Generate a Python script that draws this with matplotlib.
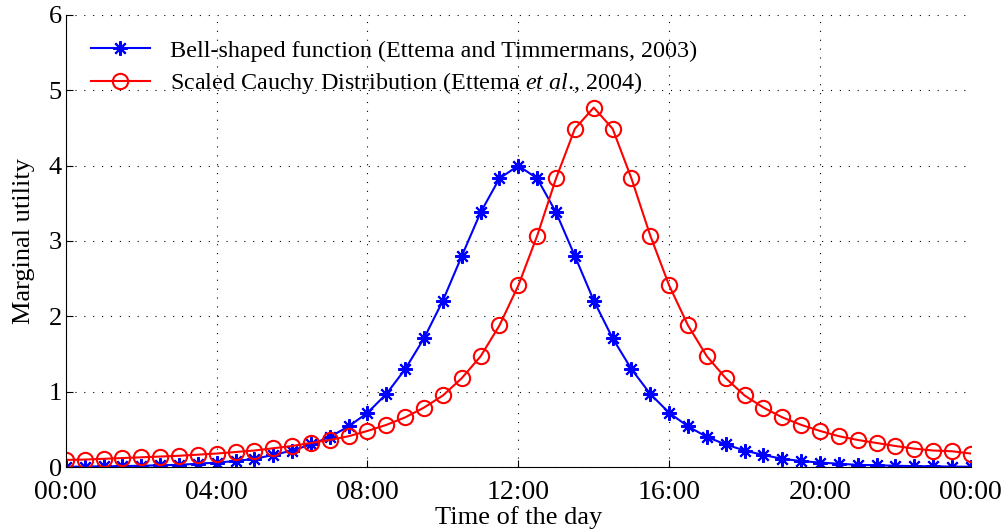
import numpy as np
import matplotlib.pyplot as plt

plt.rcParams['font.family'] = ['Liberation Serif', 'DejaVu Serif']
plt.rcParams['mathtext.fontset'] = 'custom'
plt.rcParams['mathtext.rm'] = 'Liberation Serif'
plt.rcParams['mathtext.it'] = 'Liberation Serif:italic'

# time of day in hours, every half hour
hours = np.arange(0, 24.5, 0.5)

# bell-shaped function, peak at 12:00
bell = [0.005, 0.007, 0.01, 0.013, 0.018, 0.024, 0.03, 0.045, 0.06, 0.08,
        0.11, 0.16, 0.22, 0.30, 0.40, 0.54, 0.72, 0.97, 1.30, 1.71,
        2.21, 2.80, 3.38, 3.83, 4.00, 3.83, 3.38, 2.80, 2.21, 1.71,
        1.30, 0.97, 0.72, 0.54, 0.40, 0.30, 0.22, 0.16, 0.11, 0.08,
        0.06, 0.045, 0.03, 0.024, 0.018, 0.013, 0.01, 0.007, 0.005]

# scaled Cauchy distribution, peak at 14:00
cauchy = [0.095, 0.10, 0.11, 0.12, 0.13, 0.14, 0.15, 0.165, 0.18, 0.20,
          0.22, 0.25, 0.28, 0.32, 0.36, 0.41, 0.48, 0.56, 0.66, 0.79,
          0.95, 1.18, 1.47, 1.88, 2.41, 3.07, 3.83, 4.49, 4.77, 4.49,
          3.83, 3.07, 2.41, 1.88, 1.47, 1.18, 0.95, 0.79, 0.66, 0.56,
          0.48, 0.41, 0.36, 0.32, 0.28, 0.245, 0.22, 0.21, 0.18]

xticks = [0, 4, 8, 12, 16, 20, 24]
xticklabels = ['00:00', '04:00', '08:00', '12:00', '16:00', '20:00', '00:00']

fig = plt.figure(figsize=(10.05, 5.32), dpi=100)
ax = fig.add_axes([0.0655, 0.122, 0.9005, 0.85])

ax.plot(hours, bell, color='blue', linewidth=1.5, marker=(8, 2, 0),
        markersize=10.5, markeredgewidth=1.5,
        label='Bell-shaped function (Ettema and Timmermans, 2003)')
ax.plot(hours, cauchy, color='red', linewidth=1.5, marker='o',
        markersize=11, markerfacecolor='none', markeredgewidth=1.5,
        label=r'Scaled Cauchy Distribution (Ettema $\mathit{et\ al}$., 2004)')

ax.set_xlim(0, 24)
ax.set_ylim(0, 6)
ax.set_xticks(xticks)
ax.set_xticklabels(xticklabels)
ax.set_yticks(range(7))
ax.tick_params(direction='in', labelsize=19, length=5, pad=3)
ax.tick_params(axis='x', labelsize=20, pad=9)
ax.grid(True, color='black', linestyle=(0, (1, 7)), linewidth=0.8)
ax.spines['top'].set_visible(False)
ax.spines['right'].set_visible(False)
ax.set_xlabel('Time of the day', fontsize=19, labelpad=1)
ax.set_ylabel('Marginal utility', fontsize=19, labelpad=10)
ax.legend(loc='upper left', frameon=False, fontsize=17.4, handlelength=2.45,
          handletextpad=0.85, borderaxespad=0.63, labelspacing=0.36)

plt.savefig('out.png', dpi=100)
